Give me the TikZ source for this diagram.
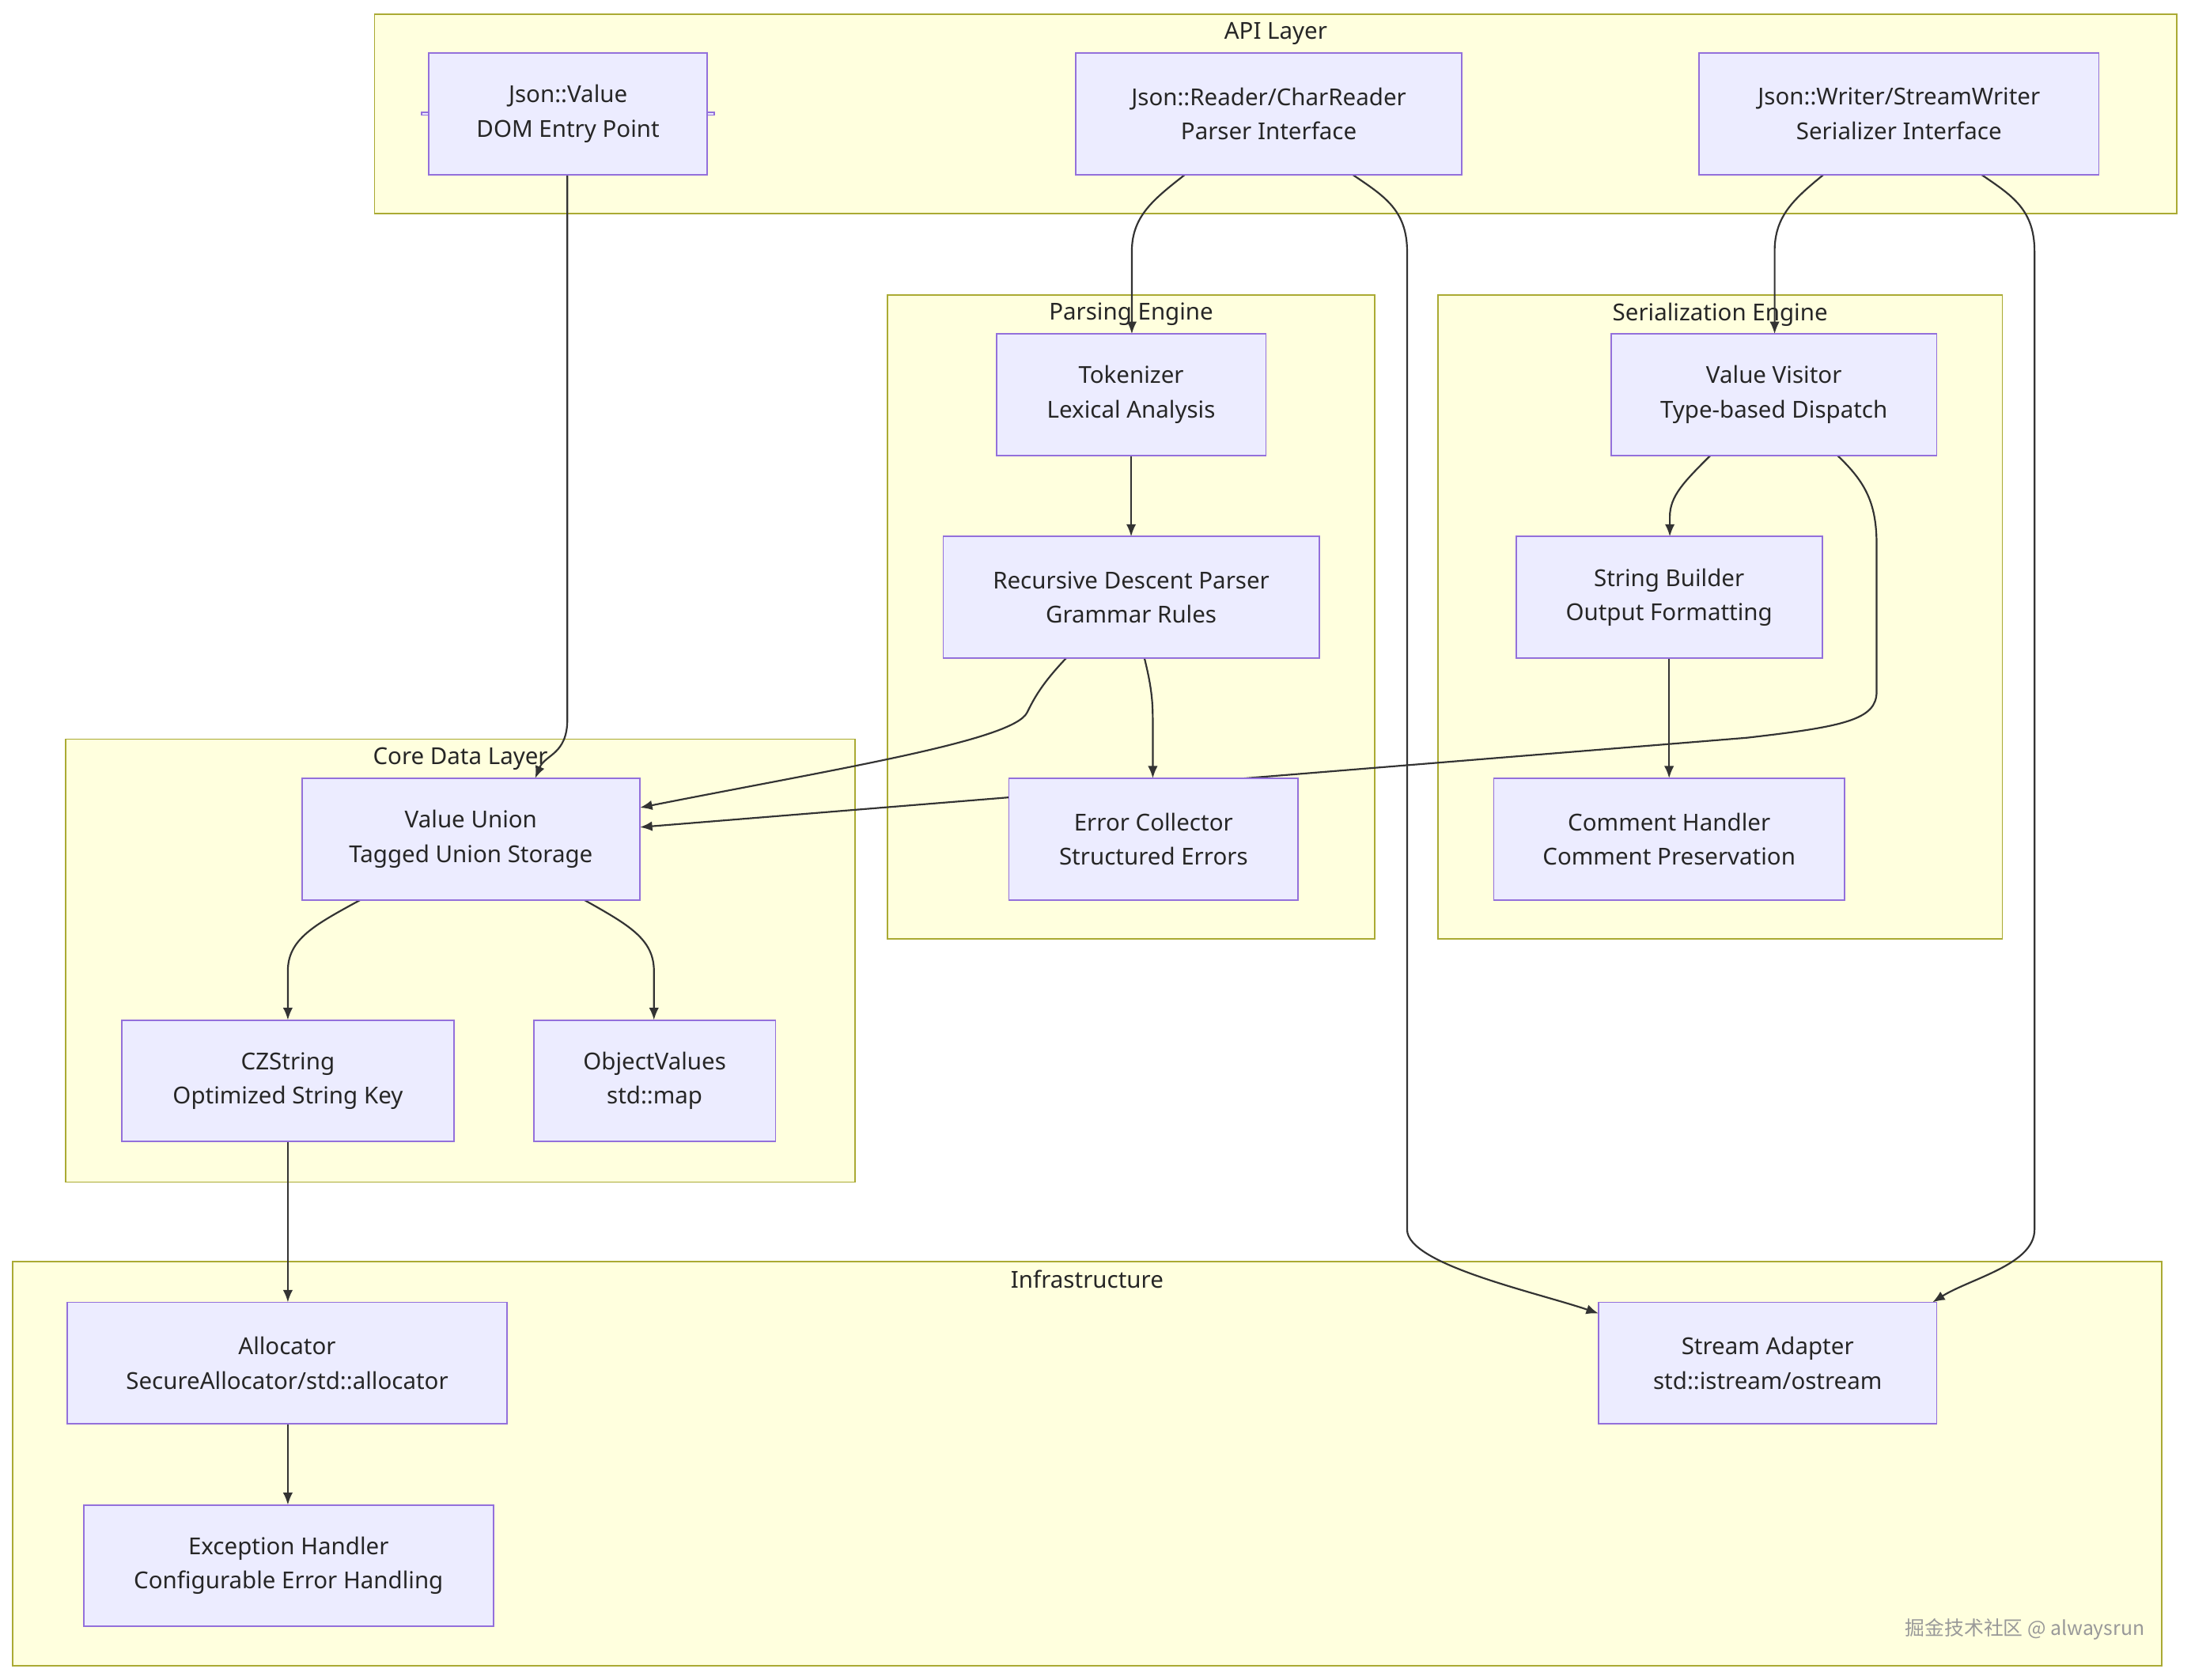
\documentclass[tikz,border=0pt]{standalone}
\usepackage{fontspec}
\setmainfont{Noto Sans}
\newfontfamily\cjk{Noto Sans CJK SC}
\usetikzlibrary{arrows.meta,calc}
\definecolor{clusterfill}{HTML}{FFFFDE}
\definecolor{clusterline}{HTML}{AAAA33}
\definecolor{boxfill}{HTML}{ECECFF}
\definecolor{boxline}{HTML}{9370DB}
\definecolor{edgeline}{HTML}{333333}
\tikzset{
  cluster/.style={draw=clusterline, fill=clusterfill, line width=0.6pt},
  clustertitle/.style={anchor=north, inner sep=2pt, font=\fontsize{9.5}{11}\selectfont, text=black!85},
  box/.style={draw=boxline, fill=boxfill, line width=0.6pt, align=center,
    font=\fontsize{9.5}{14}\selectfont, text=black!85, inner sep=0pt},
  edge/.style={draw=edgeline, line width=0.7pt, -{Latex[length=5pt,width=4pt]}},
}
\begin{document}
\begin{tikzpicture}[x=0.02cm, y=-0.02cm]
  \useasboundingbox (0,0) rectangle (1568,1202);

  % clusters
  \draw[cluster] (268,10) rectangle (1558,153);
  \node[clustertitle] (tapi) at (913,12) {API Layer};
  \draw[cluster] (635,211) rectangle (984,672);
  \node[clustertitle] (tparse) at (809.5,213) {Parsing Engine};
  \draw[cluster] (1029,211) rectangle (1433,672);
  \node[clustertitle] (tser) at (1231,213) {Serialization Engine};
  \draw[cluster] (47,529) rectangle (612,846);
  \node[clustertitle] (tcore) at (329.5,531) {Core Data Layer};
  \draw[cluster] (9,903) rectangle (1547,1192);
  \node[clustertitle] (tinfra) at (778,905) {Infrastructure};

  % nodes
  \node[box, minimum width=199\pgflinewidth] (val) at (406.5,81.5) {};
  \foreach \name/\cx/\cy/\w/\txt in {
    val/406.5/81.5/199/{Json::Value\\DOM Entry Point},
    reader/908/81.5/276/{Json::Reader/CharReader\\Parser Interface},
    writer/1359/81.5/286/{Json::Writer/StreamWriter\\Serializer Interface},
    tok/809.5/282.5/193/{Tokenizer\\Lexical Analysis},
    rdp/809.5/427.5/269/{Recursive Descent Parser\\Grammar Rules},
    err/825.5/600.5/207/{Error Collector\\Structured Errors},
    vis/1269.5/282.5/233/{Value Visitor\\Type-based Dispatch},
    sb/1194.5/427.5/219/{String Builder\\Output Formatting},
    ch/1194.5/600.5/251/{Comment Handler\\Comment Preservation},
    vu/337/600.5/242/{Value Union\\Tagged Union Storage},
    cz/206/773.5/238/{CZString\\Optimized String Key},
    ov/468.5/773.5/173/{ObjectValues\\std::map},
    alloc/205.5/975.5/315/{Allocator\\SecureAllocator/std::allocator},
    exc/206.5/1120.5/293/{Exception Handler\\Configurable Error Handling},
    sa/1265/975.5/242/{Stream Adapter\\std::istream/ostream}}
    \path (\cx,\cy) coordinate (c-\name);

  % edges
  \draw[edge] (406,125) -- (406,515) .. controls (406,540) and (390,540) .. (383,557);
  \draw[edge] (848,125) .. controls (825,143) and (810,155) .. (810,180) -- (810,239);
  \draw[edge] (968,125) .. controls (990,140) and (1007,150) .. (1007,180) -- (1007,880)
    .. controls (1007,905) and (1100,925) .. (1144,940);
  \draw[edge] (1305,125) .. controls (1283,143) and (1270,155) .. (1270,180) -- (1270,239);
  \draw[edge] (1418,125) .. controls (1440,140) and (1456,150) .. (1456,180) -- (1456,880)
    .. controls (1456,905) and (1410,915) .. (1383,932);
  \draw[edge] (809.5,326) -- (809.5,384);
  \draw[edge] (763,471) .. controls (745,490) and (740,500) .. (735,510)
    .. controls (725,530) and (600,550) .. (458,578);
  \draw[edge] (819,471) .. controls (825,495) and (825,505) .. (825,520) -- (825,557);
  \draw[edge] (1224,326) .. controls (1205,345) and (1195,355) .. (1195,370) -- (1195,384);
  \draw[edge] (1315,326) .. controls (1335,345) and (1343,360) .. (1343,390) -- (1343,495)
    .. controls (1343,515) and (1320,520) .. (1250,528) -- (458,592);
  \draw[edge] (1194.5,471) -- (1194.5,557);
  \draw[edge] (258,644) .. controls (225,662) and (206,672) .. (206,695) -- (206,730);
  \draw[edge] (418,644) .. controls (450,662) and (468,672) .. (468,695) -- (468,730);
  \draw[edge] (206,817) -- (206,932);
  \draw[edge] (206,1019) -- (206,1077);

  % boxes on top
  \foreach \name/\w/\txt in {
    val/199/{Json::Value\\DOM Entry Point},
    reader/276/{Json::Reader/CharReader\\Parser Interface},
    writer/286/{Json::Writer/StreamWriter\\Serializer Interface},
    tok/193/{Tokenizer\\Lexical Analysis},
    rdp/269/{Recursive Descent Parser\\Grammar Rules},
    err/207/{Error Collector\\Structured Errors},
    vis/233/{Value Visitor\\Type-based Dispatch},
    sb/219/{String Builder\\Output Formatting},
    ch/251/{Comment Handler\\Comment Preservation},
    vu/242/{Value Union\\Tagged Union Storage},
    cz/238/{CZString\\Optimized String Key},
    ov/173/{ObjectValues\\std::map},
    alloc/315/{Allocator\\SecureAllocator/std::allocator},
    exc/293/{Exception Handler\\Configurable Error Handling},
    sa/242/{Stream Adapter\\std::istream/ostream}}
    \node[box, minimum width=\w*0.02cm, minimum height=87*0.02cm] (\name) at (c-\name) {\txt};

  \node[anchor=east, text=black!40, font=\cjk\fontsize{8}{10}\selectfont] (mark) at (1541,1166) {掘金技术社区 @ alwaysrun};
\end{tikzpicture}
\end{document}
